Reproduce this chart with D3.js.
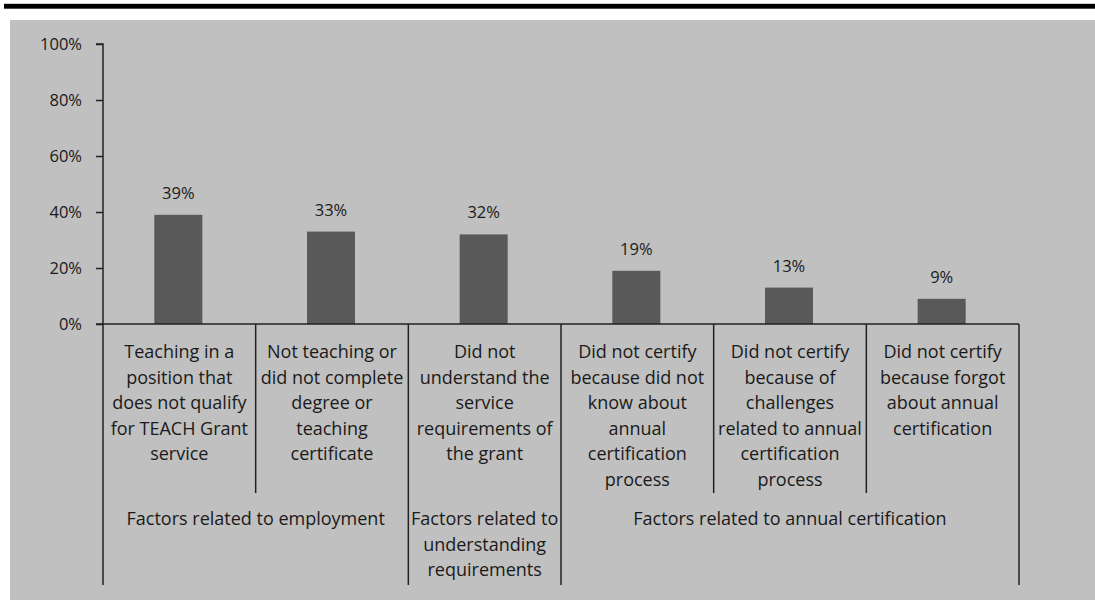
<!DOCTYPE html>
<html>
<head>
<meta charset="utf-8">
<script src="https://cdn.jsdelivr.net/npm/d3@7"></script>
<style>
  html, body { margin: 0; padding: 0; background: #ffffff; }
  svg { display: block; }
  text { font-family: "Open Sans", Lato, sans-serif; fill: #1a1a1a; }
</style>
</head>
<body>
<svg id="chart" width="1095" height="600"></svg>
<script>
// ---- data ----
const categories = [
  ["Teaching in a", "position that", "does not qualify", "for TEACH Grant", "service"],
  ["Not teaching or", "did not complete", "degree or", "teaching", "certificate"],
  ["Did not", "understand the", "service", "requirements of", "the grant"],
  ["Did not certify", "because did not", "know about", "annual", "certification", "process"],
  ["Did not certify", "because of", "challenges", "related to annual", "certification", "process"],
  ["Did not certify", "because forgot", "about annual", "certification"]
];
const values = [39, 33, 32, 19, 13, 9];
const groupNames = [
  ["Factors related to employment"],
  ["Factors related to", "understanding", "requirements"],
  ["Factors related to annual certification"]
];
const groupSizes = [2, 1, 3];
const yTicks = [0, 20, 40, 60, 80, 100];

(function () {
// ---- layout ----
const svg = d3.select("#chart");
const W = 1095, H = 600;
const plotLeft = 103, plotRight = 1019, plotTop = 44, base = 324;
const FS = "18px", NFS = "16.5px";

svg.append("rect").attr("x", 0).attr("y", 0).attr("width", W).attr("height", H).attr("fill", "#fff");
// top rule
svg.append("rect").attr("x", 4).attr("y", 3.5).attr("width", W - 4).attr("height", 5.5).attr("fill", "#9a9a9a");
svg.append("rect").attr("x", 4).attr("y", 4).attr("width", W - 4).attr("height", 4.5).attr("fill", "#000");
// gray plot background
svg.append("rect").attr("x", 10).attr("y", 20).attr("width", W - 10).attr("height", H - 20).attr("fill", "#c0c0c0");

const idx = d3.range(values.length);
const x = d3.scaleBand().domain(idx).range([plotLeft, plotRight]).paddingInner(0).paddingOuter(0);
const y = d3.scaleLinear().domain([0, 100]).range([base, plotTop]);

// y axis
const yAxis = d3.axisLeft(y).tickValues(yTicks).tickFormat(d => d + "%").tickSize(7).tickPadding(14);
const ga = svg.append("g").attr("transform", `translate(${plotLeft},0)`).call(yAxis);
ga.select(".domain").attr("stroke", "#222").attr("stroke-width", 1.5).attr("d", `M-7,${plotTop}H0V${base}`);
ga.selectAll(".tick line").attr("stroke", "#222").attr("stroke-width", 1.5);
ga.selectAll(".tick text").style("font-family", "'Open Sans', Lato, sans-serif").style("font-size", NFS).attr("fill", "#1a1a1a");

// bars
const bw = 48;
svg.append("g").selectAll("rect").data(idx).join("rect")
  .attr("x", i => x(i) + x.bandwidth() / 2 - bw / 2 - 1)
  .attr("y", i => y(values[i]))
  .attr("width", bw)
  .attr("height", i => base - y(values[i]))
  .attr("fill", "#595959");

// value labels
svg.append("g").selectAll("text").data(idx).join("text")
  .attr("x", i => x(i) + x.bandwidth() / 2 - 1)
  .attr("y", i => y(values[i]) - 16)
  .attr("text-anchor", "middle")
  .style("font-size", NFS)
  .text(i => values[i] + "%");

// horizontal axis line
svg.append("line").attr("x1", plotLeft - 7).attr("x2", plotRight).attr("y1", base).attr("y2", base)
  .attr("stroke", "#222").attr("stroke-width", 1.5);

// dividers
const groupStarts = [];
let acc = 0;
groupSizes.forEach(s => { groupStarts.push(acc); acc += s; });
d3.range(values.length + 1).forEach(b => {
  const isGroup = b === values.length || groupStarts.includes(b);
  const xx = b === values.length ? plotRight : x(b);
  svg.append("line").attr("x1", xx).attr("x2", xx).attr("y1", base).attr("y2", isGroup ? 585 : 493)
    .attr("stroke", "#222").attr("stroke-width", 1.5);
});

// category labels
const lh = 25.5;
idx.forEach(i => {
  const t = svg.append("text").attr("text-anchor", "middle").style("font-size", FS);
  categories[i].forEach((ln, k) => {
    t.append("tspan").attr("x", x(i) + x.bandwidth() / 2).attr("y", 358 + k * lh).text(ln);
  });
});

// group labels
groupNames.forEach((g, gi) => {
  const s = groupStarts[gi], n = groupSizes[gi];
  const cx = x(s) + (x.bandwidth() * n) / 2;
  const t = svg.append("text").attr("text-anchor", "middle").style("font-size", FS);
  g.forEach((ln, k) => {
    t.append("tspan").attr("x", cx).attr("y", 525 + k * lh).text(ln);
  });
});
})();
</script>
</body>
</html>
